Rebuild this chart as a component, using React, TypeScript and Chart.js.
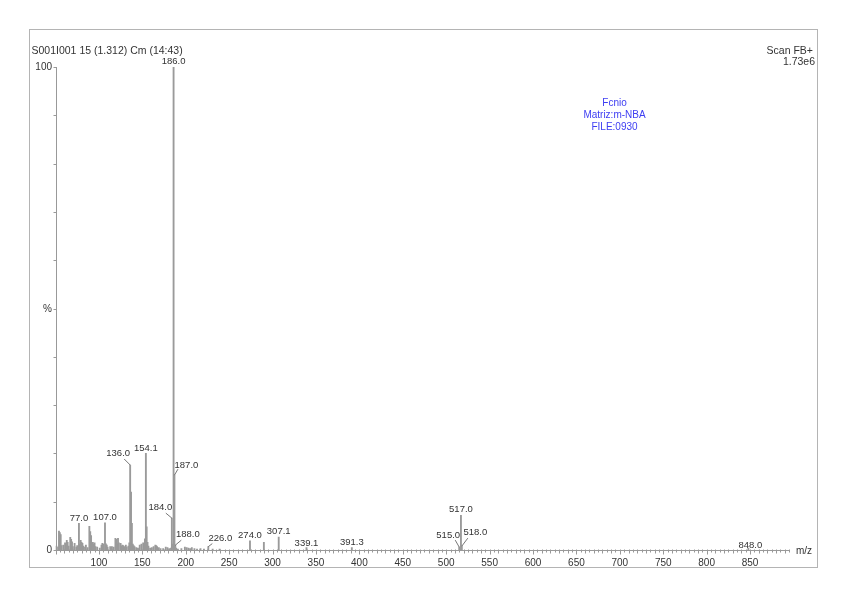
import React, { useEffect, useRef } from "react";
import { Chart, registerables } from "chart.js";

Chart.register(...registerables);

// ---- data ----
const MZ = [
  51, 53, 54, 55, 56, 57, 59, 61, 62, 63, 64, 65, 67, 68, 69, 70, 72, 74, 75, 77,
  78, 79, 80, 81, 82, 84, 85, 87, 89, 90, 91, 92, 93, 94, 95, 96, 98, 101, 103, 104,
  105, 107, 108, 109, 110, 113, 115, 117, 119, 120, 121, 122, 123, 125, 126, 127, 128, 129, 131, 132,
  134, 135, 136, 137, 138, 139, 140, 141, 143, 145, 147, 149, 151, 152, 153, 154.1, 155, 156, 157, 159,
  161, 163, 165, 166, 167, 169, 171, 174, 177, 179, 181, 183, 184, 185, 186, 187, 188, 189, 191, 195,
  199, 201, 203, 205, 207, 210, 213, 217, 221, 226, 231, 239, 274, 290, 307.1, 339.1, 391.3, 515, 517, 518,
  848,
];
const INTENSITY = [
  0.8, 0.6, 3.9, 3.6, 3.2, 0.9, 1.0, 1.5, 1.2, 2.0, 1.6, 0.8, 2.6, 2.2, 1.7, 0.7, 1.4, 0.6, 0.9, 5.5,
  1.2, 2.0, 1.6, 1.4, 0.8, 0.6, 1.0, 0.5, 4.9, 3.8, 3.0, 1.5, 1.6, 1.2, 1.5, 0.7, 0.6, 0.4, 1.0, 1.4,
  1.2, 5.6, 1.3, 1.0, 0.6, 0.7, 0.7, 0.6, 2.4, 2.2, 1.3, 2.4, 1.5, 1.4, 0.8, 1.0, 0.9, 0.7, 1.0, 0.6,
  0.8, 1.5, 17.6, 12.0, 5.5, 1.2, 0.9, 0.7, 0.5, 0.4, 1.0, 1.2, 1.5, 1.0, 2.3, 20.0, 4.8, 1.6, 0.8, 0.4,
  0.5, 0.7, 1.0, 0.9, 0.7, 0.5, 0.3, 0.3, 0.6, 0.5, 0.3, 0.4, 6.6, 1.2, 100, 15.5, 1.0, 0.4, 0.2, 0.3,
  0.6, 0.5, 0.4, 0.3, 0.5, 0.3, 0.2, 0.3, 0.2, 0.7, 0.2, 0.2, 1.9, 1.6, 2.7, 0.5, 0.5, 0.6, 7.2, 0.8,
  0.4,
];
const LABELED_MZ = [77, 107, 136, 154.1, 184, 186, 187, 188, 226, 274, 307.1, 339.1, 391.3, 515, 517, 518, 848];
const X_TICK_LABELS = [100, 150, 200, 250, 300, 350, 400, 450, 500, 550, 600, 650, 700, 750, 800, 850];
const Y_TICK_LABELS = ["0", "100"];
const TITLE = "S001I001 15 (1.312) Cm (14:43)";
const SCAN_LINES = ["Scan FB+", "1.73e6"];
const SAMPLE_LINES = ["Fcnio", "Matriz:m-NBA", "FILE:0930"];

// ---- label placement (style) : [textDx, textDy, leaderDx, leaderDy] ----
const LABEL_PLACEMENT: Record<string, number[]> = {
  "136": [-12, -12, -6, -6],
  "187": [12, -10, 3.5, -6],
  "184": [-11.5, -11, -6, -5],
  "188": [12.5, -10.5, 6, -5],
  "226": [12, -8, 4, -3],
  "515": [-11, -12, -4, -7],
  "518": [13.5, -14, 6, -8],
  "848": [2, -3, 0, 0],
  "339.1": [0, -4.4, 0, 0],
};

const FONT = "'Liberation Sans', Arial, Helvetica, sans-serif";
const TEXT = "#333333";
const AXIS = "#999999";

const spectrumPlugin = {
  id: "spectrumDecor",
  beforeDatasetsDraw(chart: any) {
    const ctx = chart.ctx;
    const xs = chart.scales.x;
    const ys = chart.scales.y;
    const left = xs.left;
    const right = xs.right;
    const top = ys.top;
    const bottom = ys.bottom;
    ctx.save();
    // frame
    ctx.strokeStyle = "#b4b4b4";
    ctx.lineWidth = 1;
    ctx.strokeRect(29.5, 29.5, 788, 538);
    // y axis
    ctx.strokeStyle = AXIS;
    ctx.beginPath();
    const ax = Math.round(left) + 0.5;
    ctx.moveTo(ax, top);
    ctx.lineTo(ax, bottom);
    for (let v = 0; v <= 100; v += 10) {
      const y = Math.round(ys.getPixelForValue(v)) + 0.5;
      ctx.moveTo(ax - 3, y);
      ctx.lineTo(ax, y);
    }
    // x axis
    const by = Math.round(bottom) + 0.5;
    ctx.moveTo(left, by);
    ctx.lineTo(right, by);
    for (let v = 50; v <= xs.max; v += 5) {
      const x = Math.round(xs.getPixelForValue(v)) + 0.5;
      const len = v % 50 === 0 ? 4 : v % 10 === 0 ? 3 : 2;
      ctx.moveTo(x, by - 1);
      ctx.lineTo(x, by + len);
    }
    ctx.stroke();

    // axis labels
    ctx.fillStyle = TEXT;
    ctx.font = `10px ${FONT}`;
    ctx.textBaseline = "middle";
    ctx.textAlign = "right";
    Y_TICK_LABELS.forEach((t) => {
      ctx.fillText(t, ax - 4.5, ys.getPixelForValue(Number(t)));
    });
    ctx.fillText("%", ax - 4.5, ys.getPixelForValue(50) + 1);
    ctx.textAlign = "center";
    X_TICK_LABELS.forEach((v) => {
      ctx.fillText(String(v), xs.getPixelForValue(v), bottom + 13);
    });
    ctx.textAlign = "left";
    ctx.fillText("m/z", right + 6, bottom + 1.5);

    // header texts
    ctx.font = `10.5px ${FONT}`;
    ctx.textAlign = "left";
    ctx.fillText(TITLE, 31.5, 51);
    ctx.textAlign = "right";
    ctx.fillText(SCAN_LINES[0], 813, 51);
    ctx.fillText(SCAN_LINES[1], 815, 62);
    ctx.font = `10px ${FONT}`;
    ctx.fillStyle = "#3d3df2";
    ctx.textAlign = "center";
    SAMPLE_LINES.forEach((t, i) => {
      ctx.fillText(t, 614.5, 103.5 + i * 11.7);
    });
    ctx.restore();
  },
  afterDatasetsDraw(chart: any) {
    const ctx = chart.ctx;
    const xs = chart.scales.x;
    const ys = chart.scales.y;
    ctx.save();
    ctx.font = `9.5px ${FONT}`;
    ctx.fillStyle = TEXT;
    ctx.strokeStyle = "#555";
    ctx.lineWidth = 0.8;
    ctx.textAlign = "center";
    ctx.textBaseline = "middle";
    LABELED_MZ.forEach((mz) => {
      const idx = MZ.indexOf(mz);
      if (idx < 0) return;
      const px = xs.getPixelForValue(mz);
      const py = ys.getPixelForValue(INTENSITY[idx]);
      const p = LABEL_PLACEMENT[String(mz)] || [0, -5.5, 0, 0];
      if (p[2] !== 0 || p[3] !== 0) {
        ctx.beginPath();
        ctx.moveTo(px, py);
        ctx.lineTo(px + p[2], py + p[3]);
        ctx.stroke();
      }
      ctx.fillText(mz.toFixed(1), px + p[0], py + p[1]);
    });
    ctx.restore();
  },
};

export default function App() {
  const ref = useRef<HTMLCanvasElement | null>(null);
  useEffect(() => {
    if (!ref.current) return;
    const chart = new Chart(ref.current, {
      type: "bar",
      data: {
        datasets: [
          {
            data: MZ.map((x, i) => ({ x, y: INTENSITY[i] })),
            backgroundColor: "#9a9a9a",
            borderWidth: 0,
            barThickness: 1.2,
          } as any,
        ],
      },
      options: {
        responsive: false,
        animation: false,
        layout: { padding: { left: 55.5, right: 58, top: 67, bottom: 49 } },
        scales: {
          x: { type: "linear", min: 50, max: 896, display: false, offset: false },
          y: { min: 0, max: 100, display: false },
        },
        plugins: { legend: { display: false }, tooltip: { enabled: false } },
      },
      plugins: [spectrumPlugin],
    });
    return () => chart.destroy();
  }, []);
  return (
    <div style={{ position: "fixed", left: 0, top: 0, width: 848, height: 599, background: "#fff" }}>
      <canvas ref={ref} width={848} height={599} style={{ display: "block" }} />
    </div>
  );
}
